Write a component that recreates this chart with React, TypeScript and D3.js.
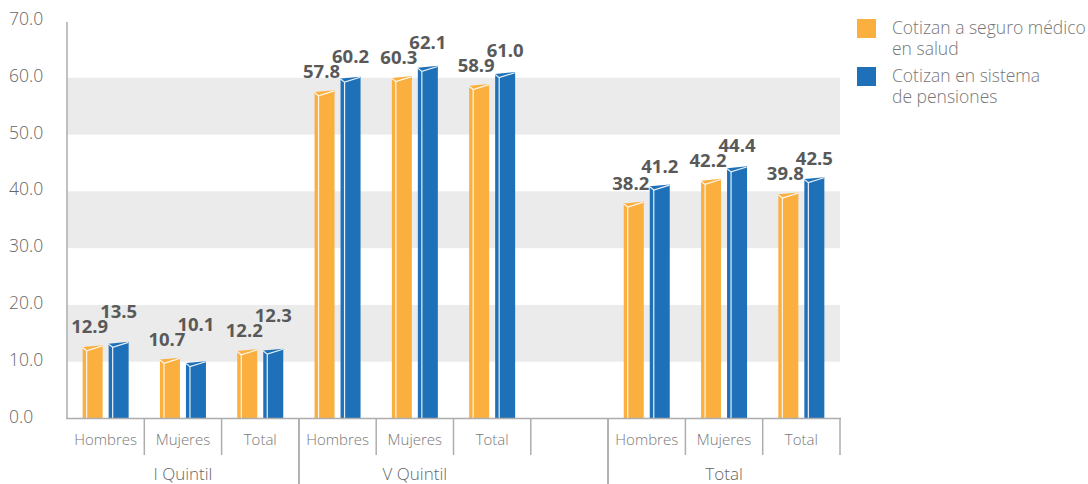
import React from "react";
import * as d3 from "d3";

const subCategories = ["Hombres", "Mujeres", "Total"];
const groups = ["I Quintil", "V Quintil", "Total"];
const seriesNames = ["Cotizan a seguro médico|en salud", "Cotizan en sistema|de pensiones"];
const salud = [12.9, 10.7, 12.2, 57.8, 60.3, 58.9, 38.2, 42.2, 39.8];
const pensiones = [13.5, 10.1, 12.3, 60.2, 62.1, 61.0, 41.2, 44.4, 42.5];
const yTicks = [0, 10, 20, 30, 40, 50, 60, 70];
const bands = [[10, 20], [30, 40], [50, 60]];

const W = 1088;
const H = 484;
const ORANGE = "#FBAF3F";
const BLUE = "#1E71B8";
const AXIS = "#ADADAD";
const FONT = "'Open Sans', 'Liberation Sans', sans-serif";

// slot layout: 3 per group, with an empty slot after the second group
const slots: { key: string; group: number; sub: number }[] = [];
groups.forEach((g, gi) => {
  subCategories.forEach((s, si) => slots.push({ key: `${gi}-${si}`, group: gi, sub: si }));
  if (gi === 1) slots.push({ key: "gap", group: -1, sub: -1 });
});

export default function App() {
  const x = d3.scaleBand<string>().domain(slots.map((s) => s.key)).range([67, 840]).padding(0);
  const y = d3.scaleLinear().domain([0, 70]).range([418.5, 21]);
  const bw = 20;
  const off = 13;
  const base = y(0);

  const dataSlots = slots.filter((s) => s.sub >= 0);

  const bar = (cx: number, v: number, color: string, k: string) => {
    const x0 = cx - bw / 2;
    const x1 = cx + bw / 2;
    const top = y(v);
    const px = x0 + 4;
    const py = top + 5.5;
    return (
      <g key={k}>
        <polygon points={`${x0},${base} ${x0},${top + 1.8} ${x1},${top} ${x1},${base}`} fill={color} />
        <polyline
          points={`${x0},${top + 2.3} ${px},${py} ${x1 - 0.3},${top + 0.6}`}
          fill="none"
          stroke="#fff"
          strokeWidth={1.2}
          opacity={0.9}
        />
        <line x1={px} x2={px} y1={py} y2={base} stroke="#fff" strokeWidth={1.2} opacity={0.9} />
      </g>
    );
  };

  const groupExtent = groups.map((_, gi) => {
    const ss = slots.filter((s) => s.group === gi);
    const a = x(ss[0].key)!;
    const b = x(ss[ss.length - 1].key)! + x.bandwidth();
    return [a, b];
  });

  const boundaries = slots.map((s) => x(s.key)! + x.bandwidth());
  const longSet = new Set(
    groups.slice(1).map((_, gi) => Math.round(groupExtent[gi + 1][0]))
  );

  return (
    <svg width={W} height={H} style={{ position: "absolute", left: 0, top: 0, background: "#fff" }}>
      {bands.map(([a, b]) => (
        <rect key={a} x={67} width={773} y={y(b)} height={y(a) - y(b)} fill="#EBEBEB" />
      ))}

      {yTicks.map((t) => (
        <text key={t} x={9} y={y(t) + 4} fontFamily={FONT} fontWeight={300} fontSize={17.5} fill="#666">
          {t.toFixed(1)}
        </text>
      ))}

      {dataSlots.map((s, i) => {
        const cx = x(s.key)! + x.bandwidth() / 2;
        return (
          <g key={s.key}>
            {bar(cx - off, salud[i], ORANGE, "o")}
            {bar(cx + off, pensiones[i], BLUE, "b")}
          </g>
        );
      })}

      {dataSlots.map((s, i) => {
        const cx = x(s.key)! + x.bandwidth() / 2;
        const oy = y(salud[i]) - 12;
        const by = Math.min(y(pensiones[i]) - 12, oy - 15);
        return (
          <g key={"l" + s.key} fontFamily={FONT} fontWeight={700} fontSize={18.5} fill="#595959">
            <text x={cx - off - 3} y={oy} textAnchor="middle">
              {salud[i].toFixed(1)}
            </text>
            <text x={cx + off} y={by} textAnchor="middle">
              {pensiones[i].toFixed(1)}
            </text>
          </g>
        );
      })}

      <line x1={67} x2={67} y1={22} y2={base} stroke={AXIS} strokeWidth={1.5} />
      <line x1={66.25} x2={841} y1={base} y2={base} stroke={AXIS} strokeWidth={1.5} />

      {boundaries.map((bx, i) => (
        <line
          key={"d" + i}
          x1={bx}
          x2={bx}
          y1={base}
          y2={longSet.has(Math.round(bx)) ? H : 455}
          stroke={AXIS}
          strokeWidth={1.5}
        />
      ))}
      {[...longSet].map((lx) => (
        <line key={"L" + lx} x1={lx} x2={lx} y1={base} y2={H} stroke={AXIS} strokeWidth={1.5} />
      ))}

      {dataSlots.map((s) => (
        <text
          key={"c" + s.key}
          x={x(s.key)! + x.bandwidth() / 2}
          y={445}
          textAnchor="middle"
          fontFamily={FONT}
          fontWeight={300}
          fontSize={15}
          fill="#777"
        >
          {subCategories[s.sub]}
        </text>
      ))}

      {groups.map((g, gi) => (
        <text
          key={"g" + gi}
          x={(groupExtent[gi][0] + groupExtent[gi][1]) / 2}
          y={480}
          textAnchor="middle"
          fontFamily={FONT}
          fontWeight={300}
          fontSize={17}
          fill="#666"
        >
          {g}
        </text>
      ))}

      {seriesNames.map((name, i) => {
        const top = 19 + i * 48;
        const lines = name.split("|");
        return (
          <g key={"leg" + i}>
            <rect x={857} y={top} width={19} height={19} fill={i === 0 ? ORANGE : BLUE} />
            {lines.map((ln, j) => (
              <text
                key={j}
                x={892}
                y={top + 15 + j * 21}
                fontFamily={FONT}
                fontWeight={300}
                fontSize={17.5}
                fill="#777"
              >
                {ln}
              </text>
            ))}
          </g>
        );
      })}
    </svg>
  );
}
